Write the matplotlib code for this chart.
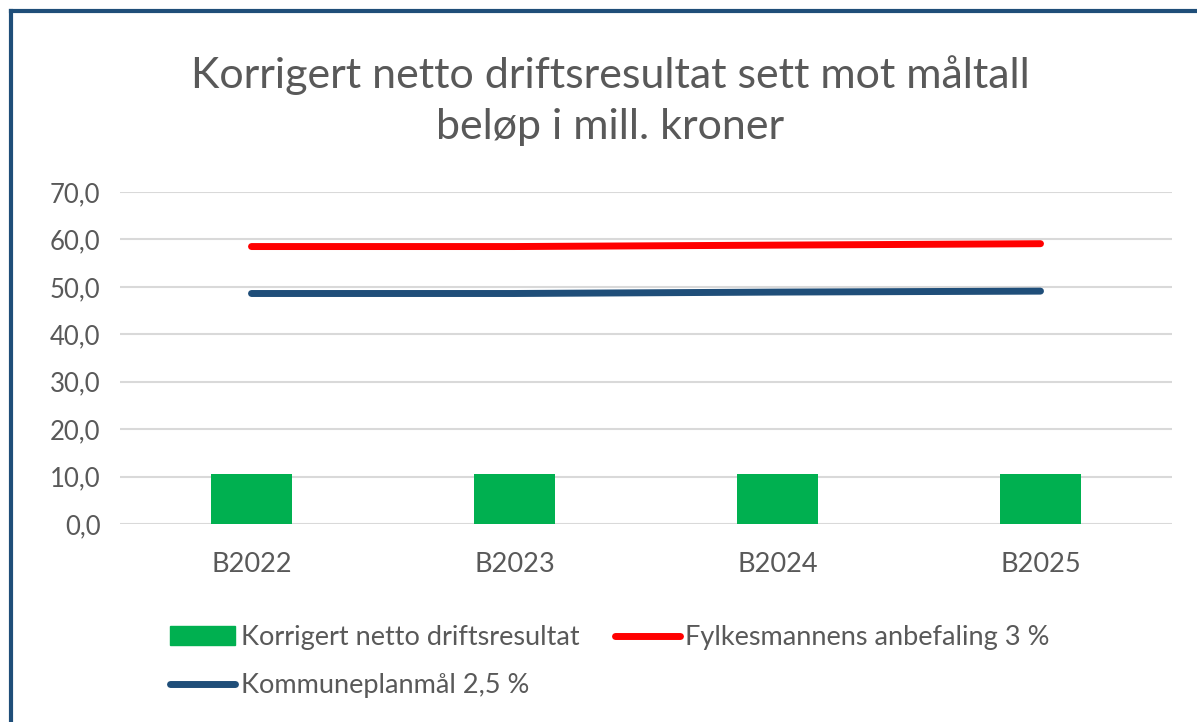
import matplotlib
matplotlib.use("Agg")
import matplotlib.pyplot as plt
from matplotlib.lines import Line2D
from matplotlib.patches import Patch

categories = ["B2022", "B2023", "B2024", "B2025"]
korrigert = [10.5, 10.5, 10.5, 10.5]
fylkesmann = [58.5, 58.5, 58.8, 59.1]
kommuneplan = [48.6, 48.6, 48.9, 49.1]
yticks = [0, 10, 20, 30, 40, 50, 60, 70]
ytick_labels = ["0,0", "10,0", "20,0", "30,0", "40,0", "50,0", "60,0", "70,0"]

plt.rcParams['font.family'] = ['Lato', 'DejaVu Sans']
grey = "#595959"

fig = plt.figure(figsize=(11.97, 7.22), dpi=100)
ax = fig.add_axes([120/1197, 1-524/722, 1052/1197, 332/722])

x = list(range(len(categories)))
ax.bar(x, korrigert, width=0.31, color="#00B050", zorder=2)
ax.plot(x, fylkesmann, color="#FF0000", lw=5, solid_capstyle="round", zorder=3)
ax.plot(x, kommuneplan, color="#1F4E79", lw=5, solid_capstyle="round", zorder=3)

ax.set_xlim(-0.5, 3.5)
ax.set_ylim(0, 70)
ax.set_yticks(yticks)
ax.set_yticklabels(ytick_labels)
ax.set_xticks(x)
ax.set_xticklabels(categories)
ax.tick_params(axis="y", length=0, labelsize=18.5, colors=grey, pad=14)
ax.tick_params(axis="x", length=0, labelsize=19.5, colors=grey, pad=20)
ax.grid(axis="y", color="#D9D9D9", lw=1.5, zorder=0)
for s in ax.spines.values():
    s.set_visible(False)

fig.text(610/1197, 1-75/722, "Korrigert netto driftsresultat sett mot måltall", ha="center", va="center",
         fontsize=31, color=grey)
fig.text(610/1197, 1-127/722, "beløp i mill. kroner", ha="center", va="center",
         fontsize=31, color=grey)

handles = [Patch(color="#00B050"),
           Line2D([], [], color="#1F4E79", lw=5, solid_capstyle="round"),
           Line2D([], [], color="#FF0000", lw=5, solid_capstyle="round")]
labels = ["Korrigert netto driftsresultat", "Kommuneplanmål 2,5 %", "Fylkesmannens anbefaling 3 %"]
leg = fig.legend(handles, labels, ncol=2, loc="upper left", bbox_to_anchor=(146/1197, 1-601/722),
                 frameon=False, fontsize=19.5, handlelength=2.4, handletextpad=0.2,
                 columnspacing=1.3, labelspacing=0.85, labelcolor=grey)

fig.add_artist(Line2D([11/1197, 11/1197], [0, 1-11/722], color="#1F4E79", lw=3, transform=fig.transFigure))
fig.add_artist(Line2D([11/1197, 1], [1-11/722, 1-11/722], color="#1F4E79", lw=3, transform=fig.transFigure))

fig.savefig("out.png", dpi=100)
